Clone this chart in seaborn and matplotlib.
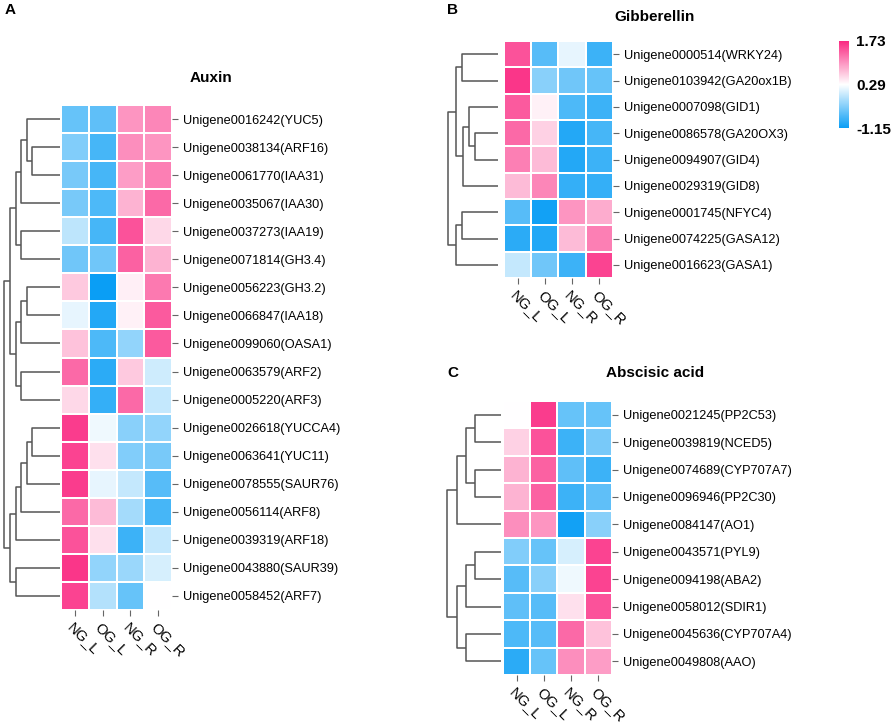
import numpy as np
import pandas as pd
import seaborn as sns
import matplotlib.pyplot as plt
from matplotlib.colors import LinearSegmentedColormap

# Samples (columns) shared by all three heatmaps
samples = ["NG_L", "OG_L", "NG_R", "OG_R"]

# Panel A - Auxin
auxin_genes = ["Unigene0016242(YUC5)", "Unigene0038134(ARF16)", "Unigene0061770(IAA31)",
               "Unigene0035067(IAA30)", "Unigene0037273(IAA19)", "Unigene0071814(GH3.4)",
               "Unigene0056223(GH3.2)", "Unigene0066847(IAA18)", "Unigene0099060(OASA1)",
               "Unigene0063579(ARF2)", "Unigene0005220(ARF3)", "Unigene0026618(YUCCA4)",
               "Unigene0063641(YUC11)", "Unigene0078555(SAUR76)", "Unigene0056114(ARF8)",
               "Unigene0039319(ARF18)", "Unigene0043880(SAUR39)", "Unigene0058452(ARF7)"]
auxin_values = [[-0.60, -0.65, 1.00, 1.10],
                [-0.45, -0.80, 1.05, 1.00],
                [-0.50, -0.80, 0.95, 1.15],
                [-0.50, -0.75, 0.80, 1.30],
                [-0.10, -0.80, 1.45, 0.55],
                [-0.55, -0.55, 1.35, 0.80],
                [0.65, -1.15, 0.40, 1.20],
                [0.15, -1.00, 0.38, 1.40],
                [0.70, -0.75, -0.35, 1.40],
                [1.30, -0.95, 0.65, 0.00],
                [0.55, -0.90, 1.30, -0.05],
                [1.60, 0.20, -0.40, -0.35],
                [1.55, 0.50, -0.45, -0.50],
                [1.60, 0.15, -0.05, -0.70],
                [1.30, 0.75, -0.25, -0.80],
                [1.45, 0.50, -0.85, -0.05],
                [1.65, -0.35, -0.30, 0.05],
                [1.55, -0.15, -0.60, 0.30]]
# merges: (left, right, height) - ids >= n refer to earlier merges
auxin_tree = [(1, 2, 28), (0, 18, 33), (19, 3, 39), (4, 5, 39), (20, 21, 44),
              (6, 7, 33), (23, 8, 39), (9, 10, 39), (24, 25, 44), (22, 26, 50),
              (11, 12, 28), (28, 13, 33), (29, 14, 39), (30, 15, 44), (16, 17, 44),
              (31, 32, 50), (27, 33, 56)]

# Panel B - Gibberellin
ga_genes = ["Unigene0000514(WRKY24)", "Unigene0103942(GA20ox1B)", "Unigene0007098(GID1)",
            "Unigene0086578(GA20OX3)", "Unigene0094907(GID4)", "Unigene0029319(GID8)",
            "Unigene0001745(NFYC4)", "Unigene0074225(GASA12)", "Unigene0016623(GASA1)"]
ga_values = [[1.45, -0.70, 0.15, -0.85],
             [1.65, -0.40, -0.55, -0.60],
             [1.40, 0.38, -0.75, -0.85],
             [1.30, 0.60, -1.00, -0.80],
             [1.15, 0.75, -1.00, -0.85],
             [0.75, 1.10, -0.90, -0.90],
             [-0.70, -1.10, 1.00, 0.85],
             [-0.95, -1.00, 0.75, 1.15],
             [-0.05, -0.55, -0.85, 1.55]]
ga_tree = [(0, 1, 36), (3, 4, 23), (2, 10, 29), (11, 5, 35), (9, 12, 42),
           (6, 7, 36), (14, 8, 42), (13, 15, 50)]

# Panel C - Abscisic acid
aba_genes = ["Unigene0021245(PP2C53)", "Unigene0039819(NCED5)", "Unigene0074689(CYP707A7)",
             "Unigene0096946(PP2C30)", "Unigene0084147(AO1)", "Unigene0043571(PYL9)",
             "Unigene0094198(ABA2)", "Unigene0058012(SDIR1)", "Unigene0045636(CYP707A4)",
             "Unigene0049808(AAO)"]
aba_values = [[0.30, 1.60, -0.60, -0.60],
              [0.60, 1.45, -0.85, -0.50],
              [0.80, 1.35, -0.65, -0.85],
              [0.80, 1.35, -0.85, -0.65],
              [1.05, 1.00, -1.10, -0.40],
              [-0.45, -0.60, 0.05, 1.55],
              [-0.70, -0.40, 0.20, 1.55],
              [-0.65, -0.70, 0.50, 1.45],
              [-0.75, -0.70, 1.30, 0.70],
              [-0.95, -0.60, 1.05, 0.95]]
aba_tree = [(0, 1, 26), (2, 3, 26), (10, 11, 35), (12, 4, 44), (5, 6, 26),
            (14, 7, 35), (8, 9, 35), (15, 16, 44), (13, 17, 54)]

cbar_ticks = [-1.15, 0.29, 1.73]

sns.set_style("white")
plt.rcParams["font.family"] = ["Liberation Sans", "DejaVu Sans"]
plt.rcParams["text.color"] = "black"
plt.rcParams["xtick.labelcolor"] = "black"
plt.rcParams["ytick.labelcolor"] = "black"

cmap = LinearSegmentedColormap.from_list("bwp", ["#0A9EF5", "#FFFFFF", "#FA2A82"])

W, H = 894, 726
fig = plt.figure(figsize=(W / 100, H / 100), dpi=100)


def box(x0, y0, x1, y1):
    return [x0 / W, 1 - y1 / H, (x1 - x0) / W, (y1 - y0) / H]


def draw_tree(ax, tree, n, width):
    pos = {i: (i + 0.5, 0.0) for i in range(n)}
    for k, (a, b, h) in enumerate(tree):
        ya, ha = pos[a]
        yb, hb = pos[b]
        ax.plot([ha, h, h, hb], [ya, ya, yb, yb], color="#555555", lw=1.1,
                solid_capstyle="butt")
        pos[n + k] = ((ya + yb) / 2, h)
    ax.set_xlim(width, 0)
    ax.set_ylim(n, 0)
    ax.axis("off")


def panel(genes, values, tree, hm_box, leaf_x, dend_w):
    df = pd.DataFrame(values, index=genes, columns=samples)
    ax = fig.add_axes(box(*hm_box))
    sns.heatmap(df, ax=ax, cmap=cmap, vmin=cbar_ticks[0], vmax=cbar_ticks[-1],
                cbar=False, linewidths=1.2, linecolor="white")
    ax.yaxis.tick_right()
    ax.tick_params(axis="y", left=False, right=True, labelleft=False, labelright=True,
                   length=4, width=0.8, color="#666666", pad=4, labelsize=9.2)
    ax.tick_params(axis="x", bottom=True, length=4, width=0.8, color="#666666",
                   pad=3, labelsize=10.5)
    ax.set_yticklabels(genes, rotation=0)
    ax.set_xticklabels(samples, rotation=-45, ha="left", rotation_mode="anchor")
    ax.set_xlabel("")
    ax.set_ylabel("")
    dax = fig.add_axes(box(leaf_x - dend_w, hm_box[1], leaf_x, hm_box[3]))
    draw_tree(dax, tree, len(genes), dend_w)
    return ax


ax_a = panel(auxin_genes, auxin_values, auxin_tree, (61, 105, 172, 610), 60, 58)
ax_b = panel(ga_genes, ga_values, ga_tree, (504, 41, 613, 278), 498, 52)
ax_c = panel(aba_genes, aba_values, aba_tree, (503, 401, 612, 675), 501, 56)

# titles and panel letters
fig.text(211 / W, 1 - 78 / H, "Auxin", ha="center", va="center", fontsize=11, weight="bold")
fig.text(655 / W, 1 - 17 / H, "Gibberellin", ha="center", va="center", fontsize=11, weight="bold")
fig.text(655 / W, 1 - 373 / H, "Abscisic acid", ha="center", va="center", fontsize=11, weight="bold")
fig.text(5 / W, 1 - 10 / H, "A", ha="left", va="center", fontsize=11, weight="bold")
fig.text(447 / W, 1 - 10 / H, "B", ha="left", va="center", fontsize=11, weight="bold")
fig.text(447 / W, 1 - 373 / H, "C", ha="left", va="center", fontsize=11, weight="bold")

# colour bar
cax = fig.add_axes(box(839, 41, 849, 128))
cb = fig.colorbar(ax_b.collections[0], cax=cax, ticks=cbar_ticks)
cb.outline.set_visible(False)
cax.tick_params(length=0, pad=5)
cax.set_yticklabels([f"{t:.2f}" for t in cbar_ticks], fontsize=11, weight="bold")

fig.savefig("out.png", dpi=100)
